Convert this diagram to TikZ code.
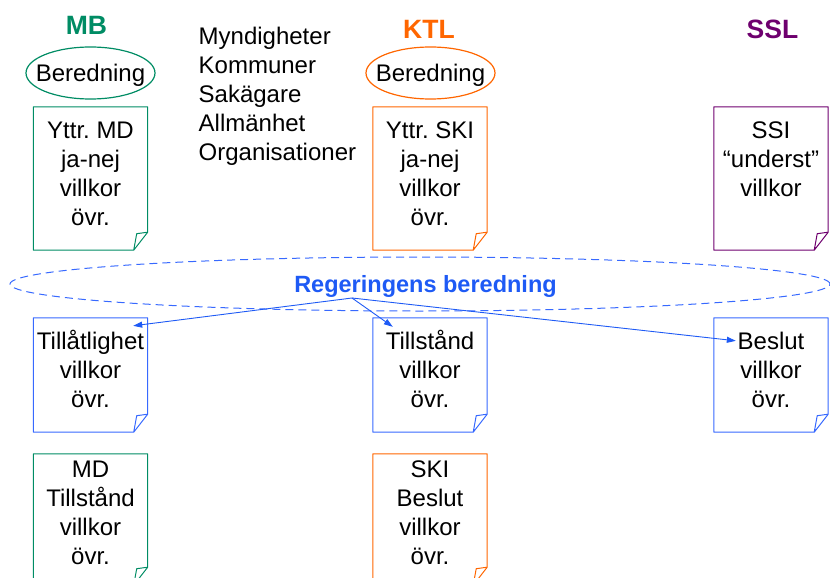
\documentclass[tikz,border=0pt]{standalone}
\usepackage{fontspec}
\setmainfont{Liberation Sans}
\frenchspacing
\usetikzlibrary{positioning,arrows.meta,shapes.geometric}
\definecolor{mbgreen}{RGB}{0,140,100}
\definecolor{ktlorange}{RGB}{255,102,0}
\definecolor{sslpurple}{RGB}{110,0,110}
\definecolor{regblue}{RGB}{30,90,245}
\definecolor{boxblue}{RGB}{55,105,255}
\tikzset{body/.style={font=\fontsize{24}{29}\selectfont},
	law/.style={font=\fontsize{26.5}{30}\selectfont\bfseries,anchor=base},
	prep/.style={ellipse,draw,line width=1.2pt,minimum width=129pt,minimum height=52pt,inner xsep=-10pt,inner ysep=0pt,text depth=0pt,body},
	doc/.style={rectangle,minimum width=114pt,inner sep=0pt},
	doc text/.style={body,align=center,inner sep=0pt},
	arr/.style={regblue,line width=0.9pt,-{Triangle[length=9pt,width=6pt]}},}

\begin{document}
\begin{tikzpicture}[x=1pt,y=-1pt]
			\useasboundingbox (0,0) rectangle (830,578);
			\clip (0,0) rectangle (830,578);

			% lagar
			\node[law,mbgreen] (mb) at (86.5,35) {MB};
			\node[law,ktlorange] (ktl) at (429,39) {KTL};
			\node[law,sslpurple] (ssl) at (772.5,39) {SSL};

			\node[prep,draw=mbgreen] (mbprep) at (90.5,73) {Beredning};
			\node[prep,draw=ktlorange] (ktlprep) at (430.5,73) {Beredning};

			\node[body,align=left,anchor=north west,inner sep=0pt] (parties) at (198.5,23.7)
				{\strut Myndigheter\\Kommuner\\Sakägare\\Allmänhet\\Organisationer};

			% dokument
			\node[doc,minimum height=143pt] (mdyttr) at (90.5,178.5) {};
			\node[doc,minimum height=143pt] (ktlyttr) at (430,178.5) {};
			\node[doc,minimum height=143pt] (ssiyttr) at (771,178.5) {};
			\node[doc,minimum height=114pt] (tillat) at (90.5,375) {};
			\node[doc,minimum height=114pt] (tillst) at (430,375) {};
			\node[doc,minimum height=114pt] (beslut) at (771,375) {};
			\node[doc,minimum height=131pt] (mdtillst) at (90.5,519.5) {};
			\node[doc,minimum height=131pt] (skibeslut) at (430,519.5) {};

			\foreach \n/\c in {mdyttr/mbgreen,ktlyttr/ktlorange,ssiyttr/sslpurple,tillat/boxblue,
				tillst/boxblue,beslut/boxblue,mdtillst/mbgreen,skibeslut/ktlorange}
				\draw[\c,line width=1pt,line join=round] (\n.north west) -- (\n.north east)
					-- ([yshift=18pt]\n.south east) -- ([xshift=-14pt]\n.south east) -- (\n.south west) -- cycle
					([xshift=-14pt]\n.south east) -- ([shift={(-11pt,16.5pt)}]\n.south east)
					-- ([yshift=18pt]\n.south east);

			\node[doc text,below=11pt of mdyttr.north] (mdyttrtext) {\strut Yttr. MD\\ja-nej\\villkor\\övr.};
			\node[doc text,below=11pt of ktlyttr.north] (ktlyttrtext) {\strut Yttr. SKI\\ja-nej\\villkor\\övr.};
			\node[doc text,below=11pt of ssiyttr.north] (ssiyttrtext) {\strut SSI\\“underst”\\villkor};
			\node[doc text,below=11.5pt of tillat.north] (tillattext) {\strut Tillåtlighet\\villkor\\övr.};
			\node[doc text,below=11.5pt of tillst.north] (tillsttext) {\strut Tillstånd\\villkor\\övr.};
			\node[doc text,below=11.5pt of beslut.north] (beslutttext) {\strut Beslut\\villkor\\övr.};
			\node[doc text,below=3.5pt of mdtillst.north] (mdtillsttext) {\strut MD\\Tillstånd\\villkor\\övr.};
			\node[doc text,below=3.5pt of skibeslut.north] (skibeslutext) {\strut SKI\\Beslut\\villkor\\övr.};

			% regeringen
			\node[ellipse,draw=boxblue,line width=1pt,dash pattern=on 8pt off 5pt,
				minimum width=820pt,minimum height=54pt,inner sep=0pt] (regprep) at (420,284) {};
			\node[font=\fontsize{23.5}{28}\selectfont\bfseries,regblue,anchor=base] (reg) at (425.5,292.7)
				{Regeringens beredning};
			\coordinate (src) at (352,298);

			\draw[arr] (src) -- ([shift={(-14.5pt,-8pt)}]tillat.north east);
			\draw[arr] (src) -- ([shift={(20pt,-9pt)}]tillst.north west);
			\draw[arr] (src) -- ([shift={(22pt,-23pt)}]beslut.north west);
		\end{tikzpicture}
\end{document}
